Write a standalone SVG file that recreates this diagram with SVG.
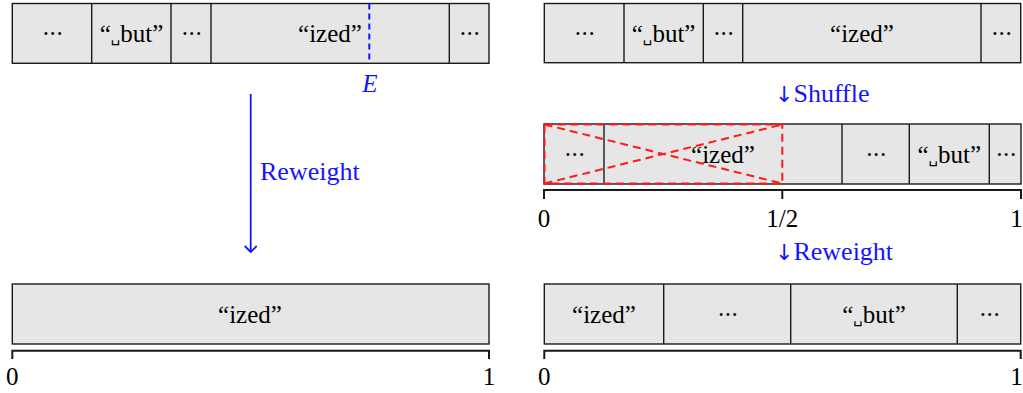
<svg xmlns="http://www.w3.org/2000/svg" width="1023" height="393" viewBox="0 0 1023 393">
<style>
.box{fill:#e6e6e6;stroke:#1a1a1a;stroke-width:1.4}
.div{stroke:#1a1a1a;stroke-width:1.4}
.t{font-family:"Liberation Serif","Times New Roman",serif;font-size:25px;fill:#000;text-anchor:middle}
.d{letter-spacing:-1.5px}
.sp{font-family:"DejaVu Sans",sans-serif;font-size:15px}
.b{font-family:"Liberation Serif","Times New Roman",serif;font-size:26px;fill:#1414ff}
.arr{font-family:"DejaVu Sans",sans-serif;font-size:22px}
.axis{fill:none;stroke:#1a1a1a;stroke-width:2}
.red{fill:none;stroke:#ff1a1a;stroke-width:2;stroke-dasharray:8,5}
</style>
<defs>
<marker id="ah" markerWidth="14" markerHeight="14" refX="7" refY="7" orient="auto" markerUnits="userSpaceOnUse">
<path d="M1,1 L7,7 L1,13" fill="none" stroke="#1414ff" stroke-width="1.8"/>
</marker>
</defs>

<g id="top-left">
<rect class="box" x="12.3" y="3.5" width="476.7" height="59.8"/>
<line class="div" x1="91.7" y1="3.5" x2="91.7" y2="63.3"/>
<line class="div" x1="171" y1="3.5" x2="171" y2="63.3"/>
<line class="div" x1="211" y1="3.5" x2="211" y2="63.3"/>
<line class="div" x1="449.3" y1="3.5" x2="449.3" y2="63.3"/>
<text class="t d" x="52" y="42">···</text>
<text class="t" x="131.5" y="42">“<tspan class="sp">␣</tspan>but”</text>
<text class="t d" x="191" y="42">···</text>
<text class="t" x="330" y="42">“ized”</text>
<text class="t d" x="469" y="42">···</text>
<line x1="369.3" y1="3.5" x2="369.3" y2="63.3" stroke="#1414ff" stroke-width="2" stroke-dasharray="6,4"/>
<text class="t" x="370" y="92" style="fill:#1414ff;font-style:italic">E</text>
</g>

<g id="top-right">
<rect class="box" x="544.3" y="3.5" width="476.4" height="59.2"/>
<line class="div" x1="624" y1="3.5" x2="624" y2="62.7"/>
<line class="div" x1="703.3" y1="3.5" x2="703.3" y2="62.7"/>
<line class="div" x1="742.7" y1="3.5" x2="742.7" y2="62.7"/>
<line class="div" x1="981" y1="3.5" x2="981" y2="62.7"/>
<text class="t d" x="584" y="42">···</text>
<text class="t" x="663.6" y="42">“<tspan class="sp">␣</tspan>but”</text>
<text class="t d" x="723" y="42">···</text>
<text class="t" x="862" y="42">“ized”</text>
<text class="t d" x="1001" y="42">···</text>
</g>

<g id="middle-right">
<rect class="box" x="544" y="124" width="477" height="60"/>
<line class="div" x1="604" y1="124" x2="604" y2="184"/>
<line class="div" x1="842" y1="124" x2="842" y2="184"/>
<line class="div" x1="909.3" y1="124" x2="909.3" y2="184"/>
<line class="div" x1="989.3" y1="124" x2="989.3" y2="184"/>
<text class="t d" x="574" y="163">···</text>
<text class="t" x="723" y="163">“ized”</text>
<text class="t d" x="875.5" y="163">···</text>
<text class="t" x="949.3" y="163">“<tspan class="sp">␣</tspan>but”</text>
<text class="t d" x="1005.5" y="163">···</text>
<rect class="red" x="544.5" y="124.5" width="237.8" height="59"/>
<line class="red" x1="544.5" y1="124.5" x2="782.3" y2="183.5"/>
<line class="red" x1="544.5" y1="183.5" x2="782.3" y2="124.5"/>
<path class="axis" d="M544,199 V190 H1021 V199 M782.3,190 V199"/>
<text class="t" x="544" y="226.5">0</text>
<text class="t" x="782.3" y="226.5">1/2</text>
<text class="t" x="1016.5" y="226.5">1</text>
</g>

<g id="bottom-left">
<rect class="box" x="12.3" y="284" width="476.7" height="60"/>
<text class="t" x="250" y="323">“ized”</text>
<path class="axis" d="M12.3,359 V350.7 H489 V359"/>
<text class="t" x="12.3" y="385">0</text>
<text class="t" x="489" y="385">1</text>
</g>

<g id="bottom-right">
<rect class="box" x="544.3" y="284" width="476.4" height="60"/>
<line class="div" x1="663.7" y1="284" x2="663.7" y2="344"/>
<line class="div" x1="790.7" y1="284" x2="790.7" y2="344"/>
<line class="div" x1="957.3" y1="284" x2="957.3" y2="344"/>
<text class="t" x="604" y="323">“ized”</text>
<text class="t d" x="727.2" y="323">···</text>
<text class="t" x="874" y="323">“<tspan class="sp">␣</tspan>but”</text>
<text class="t d" x="989" y="323">···</text>
<path class="axis" d="M544.3,359 V350.7 H1020.7 V359"/>
<text class="t" x="544.3" y="385">0</text>
<text class="t" x="1016.5" y="385">1</text>
</g>

<g id="connectors">
<line x1="250.7" y1="94" x2="250.7" y2="252" stroke="#1414ff" stroke-width="1.8" marker-end="url(#ah)"/>
<text class="b" x="260" y="180">Reweight</text>
<text class="b" x="775" y="102"><tspan class="arr">↓</tspan>Shuffle</text>
<text class="b" x="775" y="260"><tspan class="arr">↓</tspan>Reweight</text>
</g>
</svg>
